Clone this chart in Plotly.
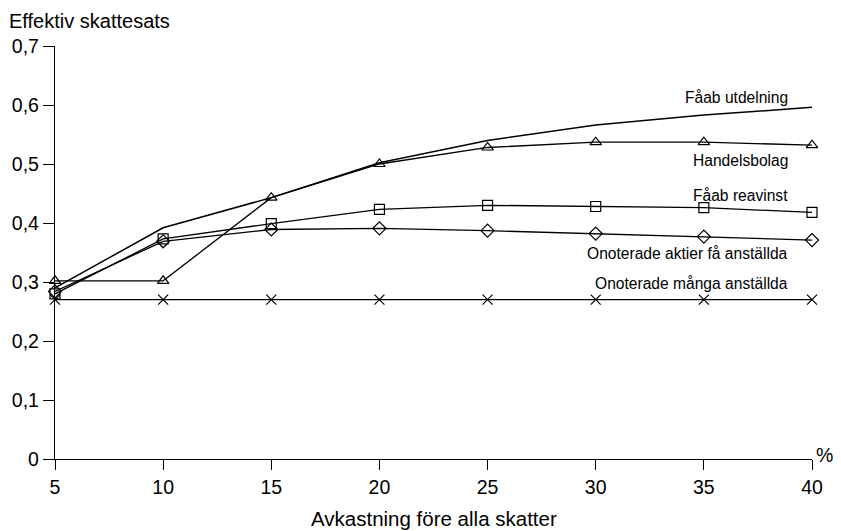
import plotly.graph_objects as go

x_vals = [5, 10, 15, 20, 25, 30, 35, 40]
faab_utdelning = [0.290, 0.392, 0.443, 0.502, 0.540, 0.566, 0.583, 0.596]
handelsbolag = [0.302, 0.302, 0.443, 0.500, 0.528, 0.537, 0.537, 0.532]
faab_reavinst = [0.280, 0.373, 0.399, 0.423, 0.430, 0.428, 0.426, 0.418]
onot_fa = [0.284, 0.369, 0.389, 0.391, 0.387, 0.382, 0.377, 0.371]
onot_manga = [0.270, 0.270, 0.270, 0.270, 0.270, 0.270, 0.270, 0.270]

y_tickvals = [0, 0.1, 0.2, 0.3, 0.4, 0.5, 0.6, 0.7]
y_ticktext = ["0", "0,1", "0,2", "0,3", "0,4", "0,5", "0,6", "0,7"]
x_tickvals = [5, 10, 15, 20, 25, 30, 35, 40]

labels = ["Fåab utdelning", "Handelsbolag", "Fåab reavinst",
          "Onoterade aktier få anställda", "Onoterade många anställda"]
label_y = [0.613, 0.506, 0.447, 0.349, 0.298]

FONT = "Liberation Sans, Arial, Helvetica, sans-serif"
fig = go.Figure()

series = [
    (faab_utdelning, None),
    (handelsbolag, "triangle-up-open"),
    (faab_reavinst, "square-open"),
    (onot_fa, "diamond-open"),
    (onot_manga, "x-thin-open"),
]
for (vals, sym), name in zip(series, labels):
    if sym is None:
        fig.add_trace(go.Scatter(x=x_vals, y=vals, mode="lines", name=name,
                                 line=dict(color="black", width=1.5),
                                 cliponaxis=False))
    else:
        fig.add_trace(go.Scatter(x=x_vals, y=vals, mode="lines+markers", name=name,
                                 line=dict(color="black", width=1.3),
                                 marker=dict(symbol=sym, size=10, color="black",
                                             line=dict(color="black", width=1.2)),
                                 cliponaxis=False))

for txt, yv in zip(labels, label_y):
    fig.add_annotation(x=39.0, y=yv, text=txt, showarrow=False, xanchor="right",
                       yanchor="middle", font=dict(size=15.6, color="black", family=FONT))

fig.add_annotation(xref="paper", yref="paper", x=-0.0621, y=1.0, yshift=25,
                   text="Effektiv skattesats", showarrow=False, xanchor="left",
                   yanchor="middle", borderpad=0,
                   font=dict(size=20, color="black", family=FONT))
fig.add_annotation(xref="paper", yref="paper", x=0.5, y=0.0, yshift=-59,
                   text="Avkastning före alla skatter", showarrow=False, xanchor="center",
                   yanchor="middle", font=dict(size=20.5, color="black", family=FONT))
fig.add_annotation(xref="paper", yref="y", x=1.0, y=0, xshift=2, yshift=4,
                   text="%", showarrow=False, xanchor="left",
                   yanchor="middle", font=dict(size=19.5, color="black", family=FONT))

fig.update_layout(
    width=833, height=523,
    margin=dict(l=47, r=29, t=38, b=72),
    paper_bgcolor="white", plot_bgcolor="white",
    showlegend=False,
    font=dict(family=FONT, color="black", size=19.5),
    xaxis=dict(range=[5, 40], tickvals=x_tickvals, showgrid=False, zeroline=False,
               showline=True, linecolor="black", linewidth=1.3,
               ticks="outside", ticklen=10, tickwidth=1.3, tickcolor="black",
               tickfont=dict(size=19.5), automargin=False),
    yaxis=dict(range=[0, 0.7], tickvals=y_tickvals, ticktext=y_ticktext,
               showgrid=False, zeroline=False,
               showline=True, linecolor="black", linewidth=1.3,
               ticks="outside", ticklen=11, tickwidth=1.3, tickcolor="black",
               tickfont=dict(size=19.5), automargin=False),
)

fig.write_html("out.html")
